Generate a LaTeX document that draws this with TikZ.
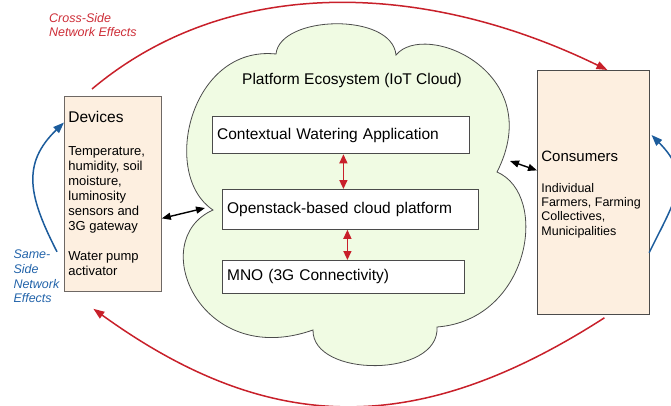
\documentclass[tikz,border=0pt]{standalone}
\usepackage{fontspec}
\setmainfont{Liberation Sans}
\usetikzlibrary{arrows.meta,calc}
\definecolor{peach}{RGB}{253,239,224}
\definecolor{cloudgreen}{RGB}{240,251,227}
\definecolor{xred}{RGB}{200,32,42}
\definecolor{xblue}{RGB}{28,92,156}
\definecolor{lblred}{RGB}{205,45,55}
\definecolor{lblblue}{RGB}{35,100,170}
\definecolor{edgegray}{RGB}{75,75,75}
\definecolor{devedge}{RGB}{110,104,100}
\begin{document}
\begin{tikzpicture}[x=1pt,y=-1pt,
  sidebox/.style={fill=peach, line width=0.8pt, anchor=north west, inner sep=0pt},
  layerbox/.style={draw=edgegray, line width=0.8pt, fill=white, anchor=north west, inner xsep=4.7pt, inner ysep=0pt, align=left, font=\fontsize{15.5pt}{18pt}\selectfont},
  crossarrow/.style={draw=xred, line width=1.5pt, -{Triangle[length=11pt,width=8pt]}, fill=none},
  samearrow/.style={draw=xblue, line width=1.5pt, -{Triangle[length=11pt,width=8pt]}},
  linkarrow/.style={draw=black, line width=1.4pt, {Triangle[length=9pt,width=7pt]}-{Triangle[length=9pt,width=7pt]}},
  stackarrow/.style={draw=xred, line width=1.4pt, {Triangle[length=9pt,width=8pt]}-{Triangle[length=9pt,width=8pt]}},
  lbl/.style={align=left, inner sep=0pt, anchor=base west, font=\itshape\fontsize{12.5pt}{14.6pt}\selectfont}
]
\useasboundingbox (0,0) rectangle (671,406);
\clip (0,0) rectangle (671,406);

% cloud
\draw[draw=edgegray, line width=0.8pt, fill=cloudgreen]
  (213,210) .. controls (160,175) and (190,45) .. (276,54)
  .. controls (280,15) and (392,12) .. (396,55)
  .. controls (425,20) and (548,72) .. (497,172)
  .. controls (550,195) and (530,320) .. (437,327)
  .. controls (440,378) and (312,378) .. (313,330)
  .. controls (200,370) and (145,240) .. cycle;
\node[anchor=base west, inner sep=0pt, font=\fontsize{15.5pt}{18pt}\selectfont] (title) at (242,85) {Platform Ecosystem (IoT Cloud)};

% layers
\node[layerbox, text width=247.6pt, minimum height=37.5pt] (cwa) at (212,116) {Contextual Watering Application};
\node[layerbox, text width=246.6pt, minimum height=40pt] (os) at (222,189) {Openstack-based cloud platform};
\node[layerbox, text width=232.6pt, minimum height=33pt] (mno) at (222,260) {MNO (3G Connectivity)};

% side boxes
\node[sidebox, draw=devedge, minimum width=97pt, minimum height=195pt] (devices) at (64,96)
 {\begin{minipage}[t][195pt][t]{89pt}\raggedright
  {\fontsize{15.5pt}{18pt}\selectfont\rule{0pt}{26pt}Devices\par}\vspace{18pt}
  {\fontsize{13pt}{15pt}\selectfont Temperature,\\ humidity, soil\\ moisture,\\ luminosity\\ sensors and\\ 3G gateway\\[15pt] Water pump\\ activator\par}
 \end{minipage}};
\node[sidebox, draw=edgegray, minimum width=112pt, minimum height=244pt] (consumers) at (537,70)
 {\begin{minipage}[t][244pt][t]{104pt}\raggedright
  {\fontsize{15pt}{18pt}\selectfont\rule{0pt}{91pt}Consumers\par}\vspace{16.7pt}
  {\fontsize{12.5pt}{14.3pt}\selectfont Individual\\ Farmers, Farming\\ Collectives,\\ Municipalities\par}
 \end{minipage}};

% stack arrows
\coordinate (r1) at ([xshift=2.5pt]cwa.south);
\coordinate (r2) at ([xshift=-3pt]os.south);
\draw[stackarrow] (r1) -- (r1 |- os.north);
\draw[stackarrow] (r2) -- (r2 |- mno.north);

% links to cloud
\coordinate (cloudL) at (205,208);
\coordinate (cloudR) at (510,161);
\draw[linkarrow] ([yshift=-24.5pt]devices.east) -- (cloudL);
\draw[linkarrow] (cloudR) -- ([yshift=22pt]consumers.west);

% cross-side effects
\draw[crossarrow] ([shift={(28,-7)}]devices.north west) .. controls (230,-27) and (427,-18) .. ([xshift=14pt]consumers.north);
\draw[crossarrow] ([shift={(11,3)}]consumers.south) .. controls (419,437) and (271,437) .. ([shift={(-19.5,17)}]devices.south);

% same-side effects
\draw[samearrow] ([shift={(-7,-40)}]devices.south west) .. controls (29,197) and (21,164) .. ([yshift=-26.5pt]devices.north west);
\draw[samearrow] ([shift={(-0.7,-62)}]consumers.south east) .. controls (676,198) and (693,177) .. ([shift={(1.7,65)}]consumers.north east);

% labels (anchor = baseline of last line)
\node[lbl, text=lblred] (crosslbl) at (49,37) {Cross-Side\\Network Effects};
\node[lbl, text=lblblue] (samelbl) at (13.3,302.7) {Same-\\Side\\Network\\Effects};
\end{tikzpicture}
\end{document}
